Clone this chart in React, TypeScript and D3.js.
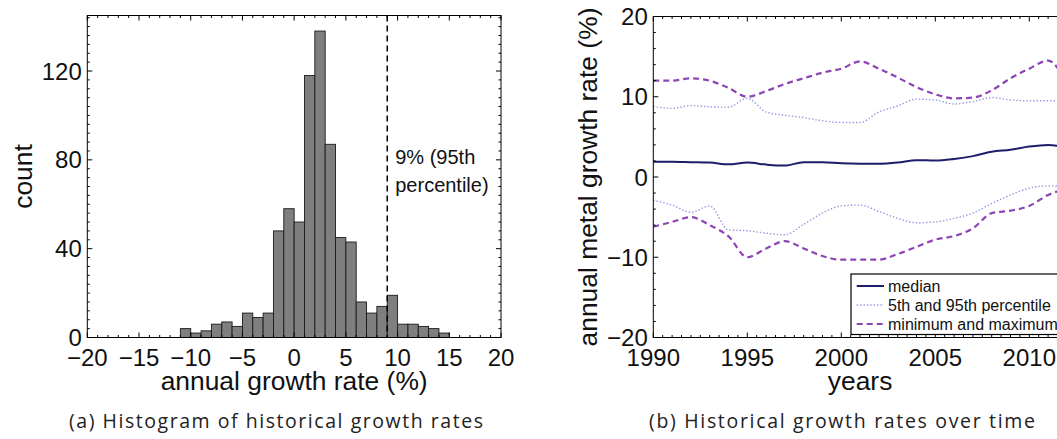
import React from "react";
import * as d3 from "d3";

// ---- Histogram data (1% wide bins, lower edge in %) ----
const binLower = [-11, -10, -9, -8, -7, -6, -5, -4, -3, -2, -1, 0, 1, 2, 3, 4, 5, 6, 7, 8, 9, 10, 11, 12, 13, 14];
const binCounts = [4, 2, 3, 6, 7, 5, 11, 9, 11, 48, 58, 52, 118, 138, 87, 45, 43, 16, 11, 14, 19, 6, 6, 5, 4, 2];
const percentile95 = 9;
const histXTicks = [-20, -15, -10, -5, 0, 5, 10, 15, 20];
const histYTicks = [0, 40, 80, 120];

// ---- Growth rate over time ----
const years = [1990, 1991, 1992, 1993, 1994, 1995, 1996, 1997, 1998, 1999, 2000, 2001, 2002, 2003, 2004, 2005, 2006, 2007, 2008, 2009, 2010, 2011, 2012];
const medianRate = [1.9, 1.9, 1.85, 1.8, 1.58, 1.8, 1.55, 1.42, 1.85, 1.85, 1.7, 1.65, 1.65, 1.8, 2.1, 2.05, 2.25, 2.6, 3.15, 3.4, 3.8, 4.0, 3.7];
const p95Rate = [8.8, 8.55, 8.9, 8.75, 8.7, 9.8, 8.1, 7.7, 7.4, 7.0, 6.8, 6.8, 8.1, 8.85, 9.7, 9.6, 9.1, 9.4, 9.9, 9.6, 9.5, 9.5, 9.5];
const p5Rate = [-2.9, -3.5, -4.4, -3.6, -6.6, -6.7, -7.0, -7.2, -5.9, -4.5, -3.6, -3.5, -4.3, -5.15, -5.7, -5.6, -5.15, -4.5, -3.3, -2.24, -1.4, -1.1, -1.2];
const maxRate = [12.0, 12.0, 12.3, 12.0, 11.1, 10.0, 10.7, 11.6, 12.3, 13.0, 13.5, 14.4, 13.5, 12.4, 11.2, 10.3, 9.8, 9.9, 10.8, 12.3, 13.5, 14.5, 11.6];
const minRate = [-6.2, -5.6, -5.0, -6.0, -7.4, -10.0, -8.9, -8.0, -8.9, -9.85, -10.3, -10.3, -10.3, -9.6, -8.7, -7.8, -7.35, -6.4, -4.5, -4.2, -3.6, -2.24, -1.5];
const yearTicks = [1990, 1995, 2000, 2005, 2010];
const rateTicks = [-20, -10, 0, 10, 20];
const legendLabels = ["median", "5th and 95th percentile", "minimum and maximum"];

const FONT = "'Liberation Sans', Arial, Helvetica, sans-serif";
const CAPTION_FONT = "'Open Sans', 'DejaVu Sans', sans-serif";
const TICK_SIZE = 24;
const LABEL_SIZE = 26.4;

const COL_MEDIAN = "#1d1d6b";
const COL_PCT = "#9595e3";
const COL_MINMAX = "#8c45b5";

const fmt = (v: number) => (v < 0 ? "\u2212" + Math.abs(v) : String(v));

type AxisBoxProps = {
  x: d3.ScaleLinear<number, number>;
  y: d3.ScaleLinear<number, number>;
  xMajor: number[];
  yMajor: number[];
  xMinorStep: number;
  yMinorStep: number;
};

// Boxed axes with inward ticks on all four sides, MATLAB style.
function AxisBox({ x, y, xMajor, yMajor, xMinorStep, yMinorStep }: AxisBoxProps) {
  const [x0, x1] = x.range();
  const [yb, yt] = y.range();
  const [dx0, dx1] = x.domain();
  const [dy0, dy1] = y.domain();
  const xMinor = d3.range(dx0, dx1 + 1e-9, xMinorStep);
  const yMinor = d3.range(dy0, dy1 + 1e-9, yMinorStep);
  const MAJ = 5;
  const MIN = 2.5;
  const isMajX = (v: number) => xMajor.some((m) => Math.abs(m - v) < 1e-6);
  const isMajY = (v: number) => yMajor.some((m) => Math.abs(m - v) < 1e-6);
  return (
    <g stroke="#000" strokeWidth={1} fill="none">
      <rect x={x0} y={yt} width={x1 - x0} height={yb - yt} />
      {xMinor.map((v, i) => {
        const len = isMajX(v) ? MAJ : MIN;
        const px = x(v);
        return (
          <g key={"xm" + i}>
            <line x1={px} x2={px} y1={yb} y2={yb - len} />
            <line x1={px} x2={px} y1={yt} y2={yt + len} />
          </g>
        );
      })}
      {yMinor.map((v, i) => {
        const len = isMajY(v) ? MAJ : MIN;
        const py = y(v);
        return (
          <g key={"ym" + i}>
            <line x1={x0} x2={x0 + len} y1={py} y2={py} />
            <line x1={x1} x2={x1 - len} y1={py} y2={py} />
          </g>
        );
      })}
    </g>
  );
}

export default function App() {
  // Histogram panel
  const hx = d3.scaleLinear().domain([-20, 20]).range([87.3, 501]);
  const hy = d3.scaleLinear().domain([0, 145]).range([337.5, 15.5]);

  // Time series panel
  const tx = d3.scaleLinear().domain([1990, 2012]).range([653.3, 1066.9]);
  const ty = d3.scaleLinear().domain([-20, 20]).range([337.5, 16.5]);

  const lineOf = (vals: number[]) =>
    d3
      .line<number>()
      .x((_, i) => tx(years[i]))
      .y((v) => ty(v))
      .curve(d3.curveMonotoneX)(vals) || "";

  const [hx0, hx1] = hx.range();
  const [hyb, hyt] = hy.range();
  const [tx0, tx1] = tx.range();
  const [tyb, tyt] = ty.range();

  const legendY = [286, 305, 324];
  const legendStyles = [
    { stroke: COL_MEDIAN, width: 2, dash: "none" },
    { stroke: COL_PCT, width: 1.4, dash: "1.4 2" },
    { stroke: COL_MINMAX, width: 2.2, dash: "6 4" },
  ];

  return (
    <svg
      width={1057}
      height={439}
      viewBox="0 0 1057 439"
      style={{ position: "absolute", left: 0, top: 0, background: "#fff" }}
      fontFamily={FONT}
    >
      <defs>
        <clipPath id="tsClip">
          <rect x={tx0} y={tyt} width={tx1 - tx0} height={tyb - tyt} />
        </clipPath>
      </defs>
      <rect x={0} y={0} width={1057} height={439} fill="#fff" />

      {/* ---------- (a) histogram ---------- */}
      <g>
        {binLower.map((b, i) => (
          <rect
            key={"bar" + i}
            x={hx(b)}
            y={hy(binCounts[i])}
            width={hx(b + 1) - hx(b)}
            height={hy(0) - hy(binCounts[i])}
            fill="#7f7f7f"
            stroke="#1a1a1a"
            strokeWidth={0.9}
          />
        ))}
        <line
          x1={hx(percentile95)}
          x2={hx(percentile95)}
          y1={hyt}
          y2={hyb}
          stroke="#000"
          strokeWidth={1.5}
          strokeDasharray="6 4"
        />
        <text x={hx(percentile95) + 8} y={164} fontSize={20} fill="#111">
          {percentile95}% (95th
        </text>
        <text x={hx(percentile95) + 8} y={192} fontSize={20} fill="#111">
          percentile)
        </text>
        <AxisBox x={hx} y={hy} xMajor={histXTicks} yMajor={histYTicks} xMinorStep={1} yMinorStep={4} />
        {histXTicks.map((t) => (
          <text key={"hxt" + t} x={hx(t)} y={365.5} fontSize={TICK_SIZE} textAnchor="middle" fill="#111">
            {fmt(t)}
          </text>
        ))}
        {histYTicks.map((t) => (
          <text key={"hyt" + t} x={hx0 - 5.5} y={hy(t) + 8.5} fontSize={TICK_SIZE} textAnchor="end" fill="#111">
            {fmt(t)}
          </text>
        ))}
        <text x={(hx0 + hx1) / 2} y={390} fontSize={LABEL_SIZE} textAnchor="middle" fill="#111">
          annual growth rate (%)
        </text>
        <text
          transform={`translate(32,${(hyb + hyt) / 2}) rotate(-90)`}
          fontSize={LABEL_SIZE}
          textAnchor="middle"
          fill="#111"
        >
          count
        </text>
      </g>

      {/* ---------- (b) growth rates over time ---------- */}
      <g clipPath="url(#tsClip)" fill="none">
        <path d={lineOf(maxRate)} stroke={COL_MINMAX} strokeWidth={2.2} strokeDasharray="6 4" />
        <path d={lineOf(minRate)} stroke={COL_MINMAX} strokeWidth={2.2} strokeDasharray="6 4" />
        <path d={lineOf(p95Rate)} stroke={COL_PCT} strokeWidth={1.4} strokeDasharray="1.4 2" />
        <path d={lineOf(p5Rate)} stroke={COL_PCT} strokeWidth={1.4} strokeDasharray="1.4 2" />
        <path d={lineOf(medianRate)} stroke={COL_MEDIAN} strokeWidth={2} />
      </g>
      <AxisBox x={tx} y={ty} xMajor={yearTicks} yMajor={rateTicks} xMinorStep={0.5} yMinorStep={2} />
      {yearTicks.map((t) => (
        <text key={"txt" + t} x={tx(t)} y={365.5} fontSize={TICK_SIZE} textAnchor="middle" fill="#111">
          {t}
        </text>
      ))}
      {rateTicks.map((t) => (
        <text key={"tyt" + t} x={tx0 - 5.5} y={ty(t) + 8.5} fontSize={TICK_SIZE} textAnchor="end" fill="#111">
          {fmt(t)}
        </text>
      ))}
      <text x={(tx0 + tx1) / 2} y={390} fontSize={LABEL_SIZE} textAnchor="middle" fill="#111">
        years
      </text>
      <text
        transform={`translate(597,${(tyb + tyt) / 2}) rotate(-90)`}
        fontSize={LABEL_SIZE}
        textAnchor="middle"
        fill="#111"
      >
        annual metal growth rate (%)
      </text>

      {/* legend */}
      <g>
        <rect x={851} y={274} width={240} height={60.5} fill="#fff" stroke="#000" strokeWidth={1.2} />
        {legendLabels.map((lab, i) => (
          <g key={"lg" + i}>
            <line
              x1={856.7}
              x2={884}
              y1={legendY[i]}
              y2={legendY[i]}
              stroke={legendStyles[i].stroke}
              strokeWidth={legendStyles[i].width}
              strokeDasharray={legendStyles[i].dash}
            />
            <text x={888} y={legendY[i] + 5.8} fontSize={16} fill="#111">
              {lab}
            </text>
          </g>
        ))}
      </g>

      {/* captions */}
      <text x={276} y={428} fontFamily={CAPTION_FONT} fontSize={19.5} textAnchor="middle" fill="#222" textLength={414} lengthAdjust="spacing">
        (a) Histogram of historical growth rates
      </text>
      <text x={842} y={428} fontFamily={CAPTION_FONT} fontSize={19.5} textAnchor="middle" fill="#222" textLength={386} lengthAdjust="spacing">
        (b) Historical growth rates over time
      </text>
    </svg>
  );
}
